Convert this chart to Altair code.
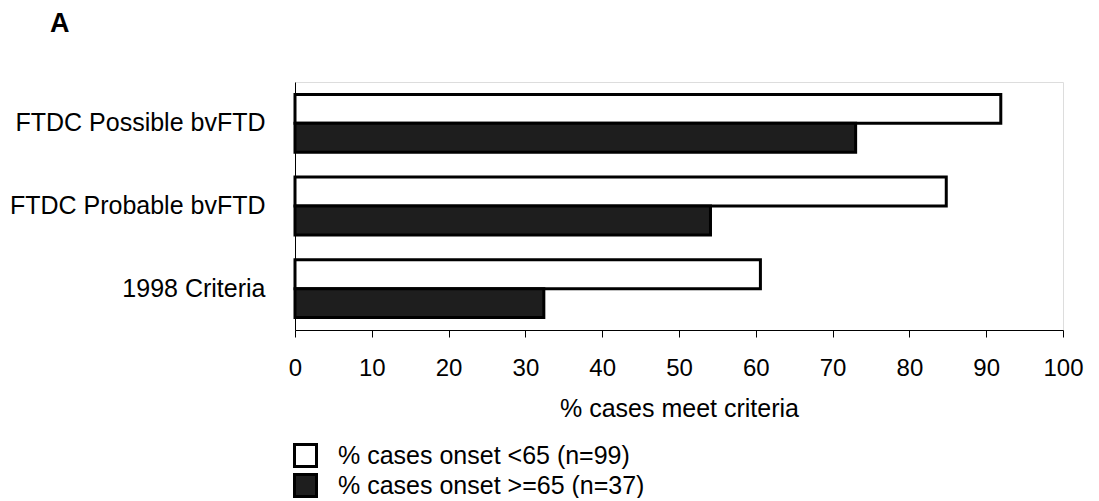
import altair as alt
import pandas as pd

categories = ["FTDC Possible bvFTD", "FTDC Probable bvFTD", "1998 Criteria"]
groups = ["% cases onset <65 (n=99)", "% cases onset >=65 (n=37)"]
values_young = [91.9, 84.8, 60.6]
values_old = [73.0, 54.1, 32.4]
x_ticks = [0, 10, 20, 30, 40, 50, 60, 70, 80, 90, 100]
panel_label = ["A"]

rows = []
for c, v in zip(categories, values_young):
    rows.append({"criterion": c, "group": groups[0], "value": v})
for c, v in zip(categories, values_old):
    rows.append({"criterion": c, "group": groups[1], "value": v})
df = pd.DataFrame(rows)

FONT = "Liberation Sans"

bars = alt.Chart(df).mark_bar(stroke="black", strokeWidth=3).encode(
    y=alt.Y(
        "criterion:N",
        sort=categories,
        scale=alt.Scale(paddingInner=0.3, paddingOuter=0.15),
        axis=alt.Axis(
            title=None,
            ticks=False,
            domainColor="black",
            domainWidth=1,
            labelFont=FONT,
            labelFontSize=25,
            labelColor="black",
            labelPadding=30,
            labelLimit=400,
        ),
    ),
    yOffset=alt.YOffset("group:N", sort=groups, scale=alt.Scale(paddingInner=0, paddingOuter=0)),
    x=alt.X(
        "value:Q",
        scale=alt.Scale(domain=[0, 100], nice=False),
        axis=alt.Axis(
            title="% cases meet criteria",
            values=x_ticks,
            grid=False,
            domainColor="black",
            domainWidth=1,
            tickColor="black",
            tickSize=7,
            labelFont=FONT,
            labelFontSize=24,
            labelColor="black",
            labelPadding=19,
            labelFlush=False,
            titleFont=FONT,
            titleFontSize=25,
            titleFontWeight="normal",
            titleColor="black",
            titlePadding=16,
        ),
    ),
    fill=alt.Fill(
        "group:N",
        sort=groups,
        scale=alt.Scale(domain=groups, range=["#ffffff", "#1e1e1e"]),
        legend=alt.Legend(
            title=None,
            orient="none",
            legendX=-2,
            legendY=361,
            direction="vertical",
            symbolType="square",
            symbolSize=484,
            symbolStrokeColor="black",
            symbolStrokeWidth=3,
            symbolOpacity=1,
            labelFont=FONT,
            labelFontSize=25,
            labelColor="black",
            labelOffset=20,
            labelLimit=500,
            rowPadding=-6,
            padding=0,
        ),
    ),
)

label = alt.Chart(pd.DataFrame({"t": panel_label})).mark_text(
    font=FONT, fontSize=27, fontWeight="bold", align="left", baseline="alphabetic", color="black"
).encode(text="t:N", x=alt.value(-245), y=alt.value(-50))

chart = alt.layer(bars, label).properties(
    width=768,
    height=248,
    autosize=alt.AutoSizeParams(type="none"),
    padding={"left": 287, "top": 74, "right": 25, "bottom": 168},
).configure_view(stroke=None).configure(background="white")

chart.save("out.html", embed_options={"renderer": "svg", "actions": False})
